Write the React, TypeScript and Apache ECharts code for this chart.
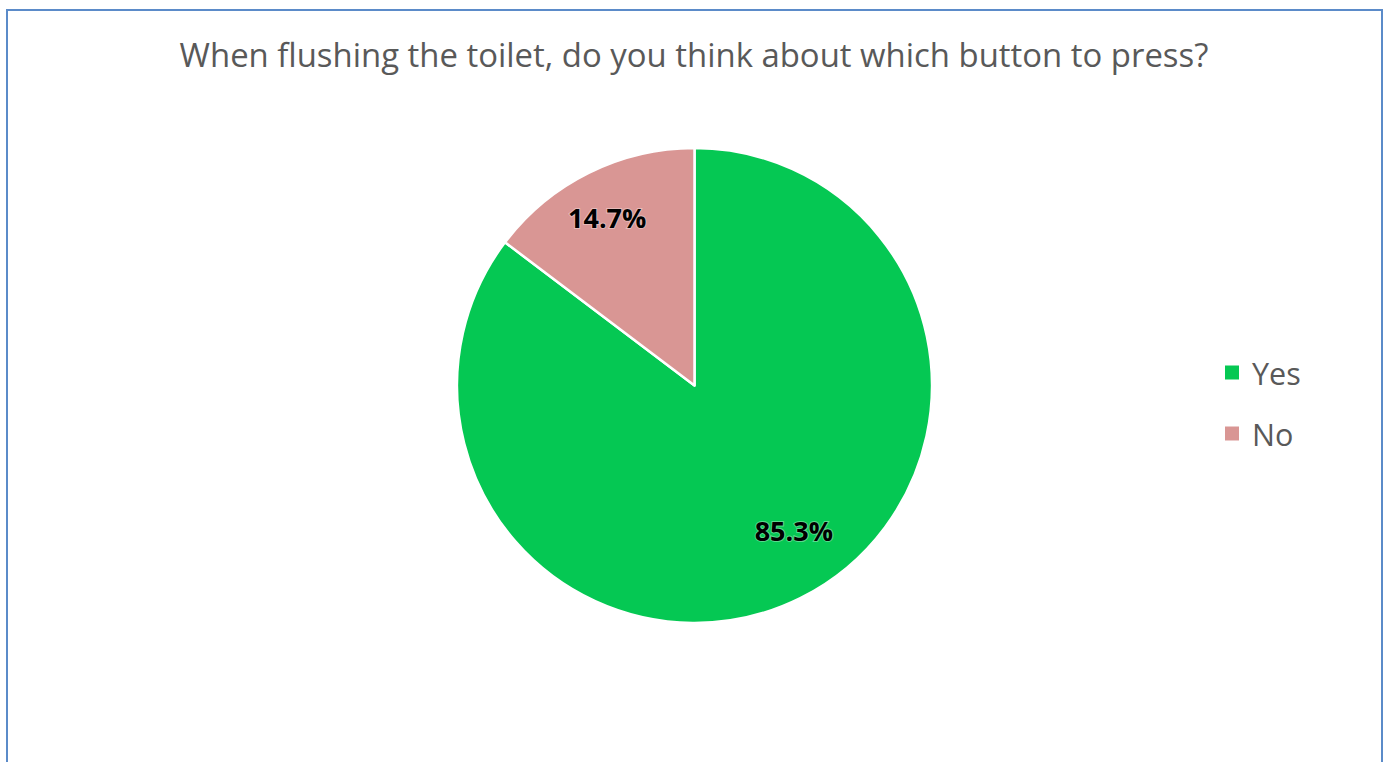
import React, { useEffect, useRef } from "react";
import * as echarts from "echarts";

const titleText = "When flushing the toilet, do you think about which button to press?";
const categories = ["Yes", "No"];
const values = [85.3, 14.7];
const colors = ["#05c853", "#d99694"];

export default function App() {
  const ref = useRef<HTMLDivElement>(null);
  useEffect(() => {
    const chart = echarts.init(ref.current!, undefined, { renderer: "svg" });
    const data = categories.map((c, i) => ({ name: c, value: values[i], itemStyle: { color: colors[i] } }));
    const labelShift = [
      [16, -22],
      [-4, -1],
    ];
    chart.setOption({
      animation: false,
      backgroundColor: "#ffffff",
      title: {
        text: titleText,
        left: "center",
        top: 38,
        padding: 0,
        textStyle: { fontFamily: "Open Sans", fontSize: 32.9, fontWeight: "normal", color: "#595959" },
      },
      legend: {
        data: categories,
        orient: "vertical",
        left: 1223,
        top: 357,
        padding: 0,
        itemWidth: 16,
        itemHeight: 16,
        itemGap: 30,
        icon: "rect",
        textStyle: { fontFamily: "Open Sans", fontSize: 30.5, color: "#595959", padding: [0, 0, 0, 7] },
      },
      graphic: [
        {
          type: "rect",
          shape: { x: 7, y: 10, width: 1375, height: 800 },
          style: { fill: "none", stroke: "#5b8bc9", lineWidth: 2 },
          silent: true,
        },
      ],
      series: [
        {
          type: "pie",
          center: [694.5, 385.5],
          radius: 237.5,
          startAngle: 90,
          clockwise: true,
          label: { show: false },
          labelLine: { show: false },
          itemStyle: { borderColor: "#ffffff", borderWidth: 2.5 },
          emphasis: { disabled: true },
          data,
        },
        {
          type: "pie",
          center: [694.5, 385.5],
          radius: [130, 238],
          startAngle: 90,
          clockwise: true,
          silent: true,
          itemStyle: { color: "rgba(0,0,0,0)" },
          labelLine: { show: false },
          labelLayout: (p: any) => ({ dx: labelShift[p.dataIndex][0], dy: labelShift[p.dataIndex][1] }),
          label: {
            show: true,
            position: "inside",
            formatter: (p: any) => p.value.toFixed(1) + "%",
            fontFamily: "Open Sans",
            fontWeight: "bold",
            fontSize: 27,
            color: "#000000",
            textBorderColor: "rgba(255,255,255,0.35)",
            textBorderWidth: 2,
          },
          emphasis: { disabled: true },
          data: categories.map((c, i) => ({ name: c, value: values[i] })),
        },
      ],
    });
    return () => chart.dispose();
  }, []);
  return <div ref={ref} style={{ position: "fixed", left: 0, top: 0, width: 1388, height: 762 }} />;
}
